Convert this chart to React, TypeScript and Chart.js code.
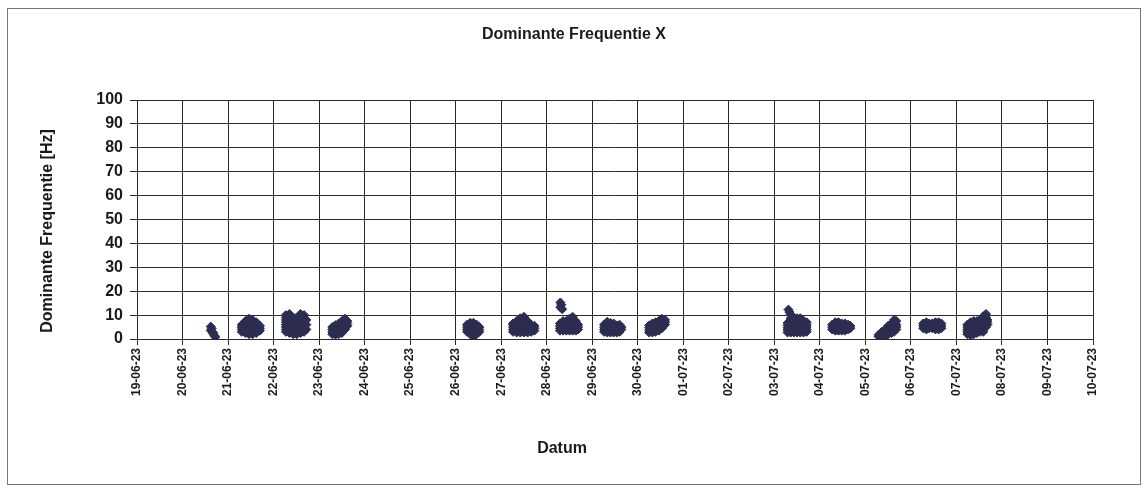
import React, { useEffect, useRef } from "react";
import { Chart, registerables } from "chart.js";

Chart.register(...registerables);

// X tick labels (one per day, starting 19-06-23 = day 0)
const dateLabels = [
  "19-06-23", "20-06-23", "21-06-23", "22-06-23", "23-06-23", "24-06-23",
  "25-06-23", "26-06-23", "27-06-23", "28-06-23", "29-06-23", "30-06-23",
  "01-07-23", "02-07-23", "03-07-23", "04-07-23", "05-07-23", "06-07-23",
  "07-07-23", "08-07-23", "09-07-23", "10-07-23",
];

const yTicks = [0, 10, 20, 30, 40, 50, 60, 70, 80, 90, 100];

// Measurements: [day offset from 19-06-23 00:00, dominant frequencies in Hz at that time]
type Column = [number, number[]];

const jun20: Column[] = [
  [1.62, [5.2, 3.6]], [1.64, [4.4]], [1.66, [3.0, 2.6]], [1.68, [2.2]], [1.70, [1.4]], [1.72, [0.8]],
];
const jun21: Column[] = [
  [2.30, [3, 4, 5, 6]],
  [2.38, [2.5, 3.5, 4.5, 5.5, 6.5, 7.5]],
  [2.46, [2, 3, 4, 5, 6, 7, 8.5]],
  [2.54, [2, 3, 4, 5, 6, 7, 8]],
  [2.62, [2.5, 3.5, 4.5, 5.5, 6.5, 7]],
  [2.70, [3.5, 4.5, 5.5]],
];
const jun22: Column[] = [
  [3.27, [3, 4, 5, 6, 7, 8, 9, 10]],
  [3.35, [2.5, 3.5, 4.5, 5.5, 6.5, 7.5, 8.5, 9.5, 10.5]],
  [3.43, [2, 3, 4, 5, 6, 7, 8, 9]],
  [3.51, [2, 3, 4, 5, 6, 7, 8, 9]],
  [3.59, [2.5, 3.5, 4.5, 5.5, 6.5, 7.5, 8.5, 9.5, 10.5]],
  [3.67, [3, 4, 5, 6, 7, 8, 9, 10]],
  [3.72, [4, 6, 8]],
];
const jun23: Column[] = [
  [4.29, [2, 3, 4, 5]],
  [4.36, [1.8, 2.8, 3.8, 4.8, 5.8]],
  [4.43, [2, 3, 4, 5, 6, 6.5]],
  [4.50, [2.5, 3.5, 4.5, 5.5, 6.5, 7.5]],
  [4.57, [4, 5, 6, 7, 8, 8.5]],
  [4.62, [5.5, 6.5, 7.5]],
];
const jun26: Column[] = [
  [7.25, [3, 4, 5, 6]],
  [7.32, [2, 3, 4, 5, 6, 6.8]],
  [7.39, [1, 2, 3, 4, 5, 6, 6.8]],
  [7.46, [2, 3, 4, 5, 6]],
  [7.52, [3, 4, 5]],
];
const jun27: Column[] = [
  [8.26, [3, 4, 5, 6, 6.5]],
  [8.34, [2.7, 3.7, 4.7, 5.7, 6.7, 7.5]],
  [8.42, [2.7, 3.7, 4.7, 5.7, 6.7, 7.7, 8.7]],
  [8.50, [2.7, 3.7, 4.7, 5.7, 6.7, 7.7, 9.3]],
  [8.58, [2.7, 3.7, 4.7, 5.7, 6.7, 7.5]],
  [8.66, [3, 4, 5, 6]],
  [8.73, [3.5, 4.5, 5.5]],
];
const jun28: Column[] = [
  [9.30, [15.3, 13.3]], [9.32, [14.3]], [9.34, [12.5]],
  [9.29, [3.5, 4.5, 5.5, 6.5]],
  [9.36, [3.5, 4.5, 5.5, 6.5, 7.5]],
  [9.43, [3.5, 4.5, 5.5, 6.5, 7.5]],
  [9.50, [3.5, 4.5, 5.5, 6.5, 7.5, 8.5]],
  [9.57, [3.5, 4.5, 5.5, 6.5, 7.5, 8.5, 9.3]],
  [9.64, [3.5, 4.5, 5.5, 6.5, 7.5]],
  [9.69, [4, 5, 6]],
];
const jun29: Column[] = [
  [10.26, [3, 4, 5, 6]],
  [10.33, [2.7, 3.7, 4.7, 5.7, 6.7, 7.2]],
  [10.40, [2.7, 3.7, 4.7, 5.7, 6.7]],
  [10.47, [2.7, 3.7, 4.7, 5.7, 6.5]],
  [10.54, [2.7, 3.7, 4.7, 5.7]],
  [10.60, [3, 4, 5, 6]],
  [10.64, [4, 5]],
];
const jun30: Column[] = [
  [11.25, [2.7, 3.7, 4.7, 5.7]],
  [11.32, [2.7, 3.7, 4.7, 5.7, 6.5]],
  [11.39, [3, 4, 5, 6, 7]],
  [11.46, [3.5, 4.5, 5.5, 6.5, 7.5]],
  [11.53, [4.5, 5.5, 6.5, 7.5, 8.5]],
  [11.60, [6, 7, 8]],
];
const jul03: Column[] = [
  [14.31, [12.3]], [14.33, [11.3]], [14.36, [10.3]], [14.40, [9.5]],
  [14.29, [2.7, 3.7, 4.7, 5.7, 6.7]],
  [14.36, [2.7, 3.7, 4.7, 5.7, 6.7, 7.7, 8.7]],
  [14.43, [2.7, 3.7, 4.7, 5.7, 6.7, 7.7]],
  [14.50, [2.7, 3.7, 4.7, 5.7, 6.7, 7.7, 8.7]],
  [14.57, [2.7, 3.7, 4.7, 5.7, 6.7, 7.7, 8.7]],
  [14.64, [2.7, 3.7, 4.7, 5.7, 6.7, 7.7]],
  [14.71, [3, 4, 5, 6, 7]],
];
const jul04: Column[] = [
  [15.27, [4, 5, 6]],
  [15.34, [3.5, 4.5, 5.5, 6.5, 7]],
  [15.41, [3.5, 4.5, 5.5, 6.5, 7]],
  [15.48, [3.5, 4.5, 5.5, 6.5]],
  [15.55, [3.5, 4.5, 5.5, 6.5]],
  [15.62, [4, 5, 6]],
  [15.67, [4.5, 5.5]],
];
const jul05: Column[] = [
  [16.29, [1, 1.8]],
  [16.36, [1, 2, 3]],
  [16.43, [1, 2, 3, 4]],
  [16.50, [2, 3, 4, 5, 5.5]],
  [16.57, [2.5, 3.5, 4.5, 5.5, 6.5]],
  [16.63, [3, 4, 5, 6, 7, 8]],
  [16.68, [4, 5, 6, 7.5]],
];
const jul06: Column[] = [
  [17.27, [4.5, 5.5, 6.5]],
  [17.34, [4, 5, 6, 7]],
  [17.40, [4.5, 5.5, 6.5]],
  [17.47, [4.5, 5.5, 6.5]],
  [17.54, [4, 5, 6, 7]],
  [17.61, [4, 5, 6, 7]],
  [17.67, [4.5, 5.5, 6.5]],
];
const jul07: Column[] = [
  [18.24, [2, 3, 4, 5, 6]],
  [18.31, [1.5, 2.5, 3.5, 4.5, 5.5, 6.5, 7]],
  [18.38, [2, 3, 4, 5, 6, 7, 7.5]],
  [18.45, [2.5, 3.5, 4.5, 5.5, 6.5, 7.5]],
  [18.52, [3, 4, 5, 6, 7, 8]],
  [18.59, [3, 4, 5, 6, 7, 8.5, 9.5]],
  [18.65, [5, 6, 7, 8, 9, 10.5]],
  [18.68, [6, 7, 8]],
];

const measurementDays: Column[][] = [
  jun20, jun21, jun22, jun23, jun26, jun27, jun28, jun29, jun30,
  jul03, jul04, jul05, jul06, jul07,
];

const TITLE = "Dominante Frequentie X";
const X_TITLE = "Datum";
const Y_TITLE = "Dominante Frequentie [Hz]";

const MARK = "#2d2d52";
const GRID = "#2a2a2a";
const FONT = "'Liberation Sans', Arial, sans-serif";

const axisTitles = {
  id: "axisTitles",
  afterDraw(chart: any) {
    const { ctx, chartArea } = chart;
    const w = chartArea.right - chartArea.left;
    ctx.save();
    ctx.fillStyle = "#1a1a1a";
    ctx.font = `bold 16px ${FONT}`;
    ctx.textAlign = "center";
    ctx.textBaseline = "middle";
    ctx.fillText(X_TITLE, chartArea.left + w * 0.4446, 439.5);
    ctx.translate(40, chartArea.top + 131);
    ctx.rotate(-Math.PI / 2);
    ctx.fillText(Y_TITLE, 0, 0);
    ctx.restore();
  },
};

export default function App() {
  const ref = useRef<HTMLCanvasElement>(null);

  useEffect(() => {
    if (!ref.current) return;
    const points = measurementDays.flatMap((day) =>
      day.flatMap(([x, ys]) => ys.map((y) => ({ x, y })))
    );
    const chart = new Chart(ref.current, {
      type: "scatter",
      data: {
        datasets: [
          {
            label: "X",
            data: points,
            pointStyle: "rectRot",
            pointRadius: 4.5,
            pointBackgroundColor: MARK,
            pointBorderColor: MARK,
            pointBorderWidth: 1,
          },
        ],
      },
      options: {
        animation: false,
        responsive: false,
        layout: { padding: 0 },
        plugins: {
          legend: { display: false },
          tooltip: { enabled: false },
          title: {
            display: true,
            text: TITLE,
            color: "#1a1a1a",
            font: { family: FONT, size: 16, weight: "bold" },
            padding: { top: 16.4, bottom: 55.4 },
          },
        },
        scales: {
          x: {
            type: "linear",
            min: 0,
            max: dateLabels.length - 1,
            afterFit: (s: any) => {
              s.height = 145;
            },
            afterBuildTicks: (s: any) => {
              s.ticks = dateLabels.map((_, i) => ({ value: i }));
            },
            ticks: {
              autoSkip: false,
              minRotation: 90,
              maxRotation: 90,
              padding: 3,
              color: "#1a1a1a",
              font: { family: FONT, size: 12, weight: "bold" },
              callback: (v: any) => dateLabels[Math.round(Number(v))] ?? "",
            },
            grid: { color: GRID, lineWidth: 1, drawTicks: true, tickLength: 6, tickColor: GRID },
            border: { color: GRID, width: 1 },
          },
          y: {
            min: 0,
            max: 100,
            afterFit: (s: any) => {
              s.width = 129;
            },
            afterBuildTicks: (s: any) => {
              s.ticks = yTicks.map((v) => ({ value: v }));
            },
            ticks: {
              padding: 7,
              color: "#1a1a1a",
              font: { family: FONT, size: 16, weight: "bold" },
            },
            grid: { color: GRID, lineWidth: 1, drawTicks: true, tickLength: 7, tickColor: GRID },
            border: { color: GRID, width: 1 },
          },
          // empty spacer on the right so the title stays centred on the whole frame
          spacer: {
            type: "linear",
            position: "right",
            min: 0,
            max: 100,
            afterFit: (s: any) => {
              s.width = 47;
            },
            ticks: { display: false },
            grid: { display: false, drawTicks: false },
            border: { display: false },
          },
        },
      },
      plugins: [axisTitles],
    });
    return () => chart.destroy();
  }, []);

  return (
    <div
      style={{
        position: "absolute",
        left: 7,
        top: 8,
        width: 1134,
        height: 477,
        boxSizing: "border-box",
        border: "1px solid #777",
        background: "#fff",
      }}
    >
      <canvas ref={ref} width={1132} height={475} style={{ display: "block", width: 1132, height: 475 }} />
    </div>
  );
}
